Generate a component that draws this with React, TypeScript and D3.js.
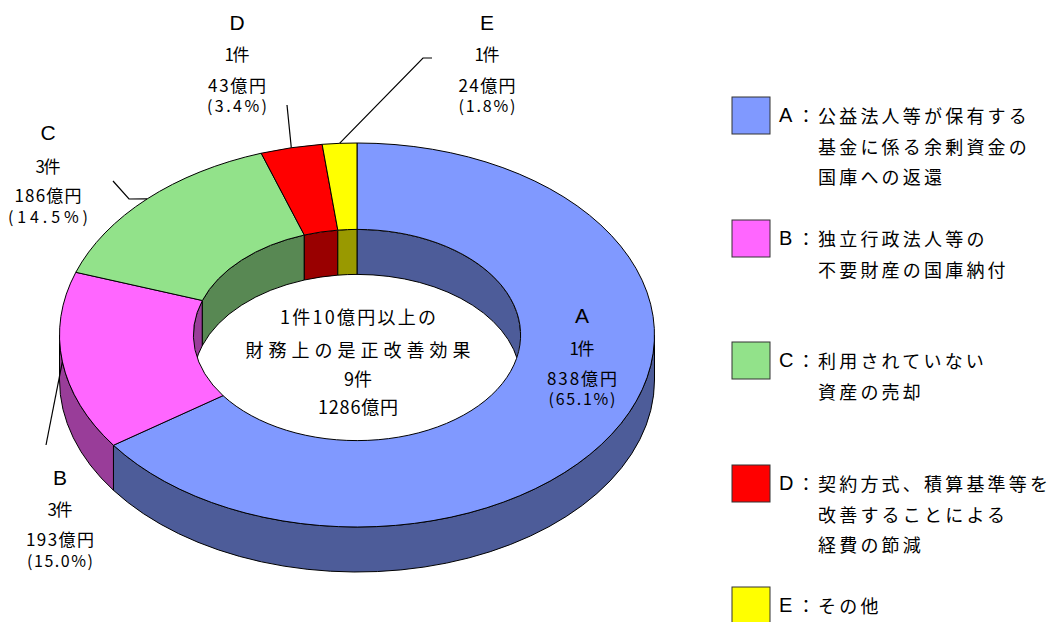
import React from "react";
import * as d3 from "d3";

// 財務上の是正改善効果（1件10億円以上）
const categories = ["A", "B", "C", "D", "E"];
const counts = [1, 3, 3, 1, 1];
const amounts = [838, 193, 186, 43, 24];
const shares = ["65.1", "15.0", "14.5", "3.4", "1.8"];
const topColors = ["#8099ff", "#ff66ff", "#92e28a", "#ff0000", "#ffff00"];
const legendText = [
  ["公益法人等が保有する", "基金に係る余剰資金の", "国庫への返還"],
  ["独立行政法人等の", "不要財産の国庫納付"],
  ["利用されていない", "資産の売却"],
  ["契約方式、積算基準等を", "改善することによる", "経費の節減"],
  ["その他"],
];
const centerTitle = ["1件10億円以上の", "財務上の是正改善効果"];
const totalCount = 9;
const totalAmount = 1286;

// layout
const W = 1055;
const H = 622;
const cx = 357;
const cy = 335;
const rx = 297.5;
const ry = 192;
const hole = 0.55;
const depth = 45;

const labelPos = [
  { x: 582, y: [315, 347, 377, 398], w: [25, 70, 67] },
  { x: 60, y: [477, 508, 538, 560], w: [25, 68, 66] },
  { x: 48, y: [132, 165, 194, 216], w: [25, 67, 80] },
  { x: 237, y: [22, 53, 84, 105], w: [25, 58, 60] },
  { x: 487, y: [22, 53, 84, 105], w: [25, 57, 57] },
];
const leaderPts: (number[][] | null)[] = [
  null,
  [[46, 445]],
  [[113, 181], [129, 199]],
  [[287, 105]],
  [[432, 58], [423, 58]],
];
const centerPos = { x: 358, y: [316, 349, 378, 406], w: [156, 225, 28, 80] };
const legendPos = { x: 732, boxW: 38, boxH: 37, top: [97, 220, 342, 465, 587], letterX: 779, colonX: 806, textX: 818, gap: 30.5 };

const JP = "'Noto Sans CJK JP', 'Noto Sans', sans-serif";
const LAT = "'Liberation Sans', Arial, sans-serif";

const P = (t: number, r: number, dz = 0): [number, number] => [
  cx + rx * r * Math.sin(t),
  cy - ry * r * Math.cos(t) + dz,
];

const arcTo = (t: number, r: number, dz: number, large: number, sweep: number) => {
  const [x, y] = P(t, r, dz);
  return `A ${rx * r} ${ry * r} 0 ${large} ${sweep} ${x} ${y}`;
};

const band = (a: number, b: number, r: number) => {
  const [x0, y0] = P(a, r);
  const [x1, y1] = P(b, r, depth);
  return `M ${x0} ${y0} ${arcTo(b, r, 0, 0, 1)} L ${x1} ${y1} ${arcTo(a, r, depth, 0, 0)} Z`;
};

const topFace = (a: number, b: number) => {
  const large = b - a > Math.PI ? 1 : 0;
  const [x0, y0] = P(a, 1);
  const [x1, y1] = P(b, hole);
  return `M ${x0} ${y0} ${arcTo(b, 1, 0, large, 1)} L ${x1} ${y1} ${arcTo(a, hole, 0, large, 0)} Z`;
};

const clip = (a: number, b: number, lo: number, hi: number) => {
  const s = Math.max(a, lo);
  const e = Math.min(b, hi);
  return s < e ? [s, e] : null;
};

export default function App() {
  const pie = d3.pie<number>().sort(null).value((d) => d);
  const slices = pie(amounts);
  const side = topColors.map((c) => {
    const col = d3.rgb(c);
    return d3.rgb(col.r * 0.6, col.g * 0.6, col.b * 0.6).formatHex();
  });

  const outerWalls: JSX.Element[] = [];
  const innerWalls: JSX.Element[] = [];
  slices.forEach((s, i) => {
    const o = clip(s.startAngle, s.endAngle, Math.PI / 2, (3 * Math.PI) / 2);
    if (o) outerWalls.push(<path key={`o${i}`} d={band(o[0], o[1], 1)} fill={side[i]} stroke="#000" strokeWidth={1} />);
    [clip(s.startAngle, s.endAngle, 0, Math.PI / 2), clip(s.startAngle, s.endAngle, (3 * Math.PI) / 2, 2 * Math.PI)].forEach((r, k) => {
      if (r) innerWalls.push(<path key={`i${i}${k}`} d={band(r[0], r[1], hole)} fill={side[i]} stroke="#000" strokeWidth={1} />);
    });
  });

  const line = d3.line();

  return (
    <svg width={W} height={H} style={{ position: "absolute", left: 0, top: 0, background: "#fff" }}>
      <defs>
        <clipPath id="holeClip">
          <ellipse cx={cx} cy={cy} rx={rx * hole} ry={ry * hole} />
        </clipPath>
      </defs>
      <rect width={W} height={H} fill="#fff" />
      {outerWalls}
      <g clipPath="url(#holeClip)">{innerWalls}</g>
      {slices.map((s, i) => (
        <path key={`t${i}`} d={topFace(s.startAngle, s.endAngle)} fill={topColors[i]} stroke="#000" strokeWidth={1} />
      ))}

      {slices.map((s, i) => {
        const pts = leaderPts[i];
        if (!pts) return null;
        const mid = (s.startAngle + s.endAngle) / 2;
        return <path key={`l${i}`} d={line([...pts, P(mid, 1)] as [number, number][]) || ""} fill="none" stroke="#000" strokeWidth={1.2} />;
      })}

      {categories.map((c, i) => {
        const lp = labelPos[i];
        const lines = [`${counts[i]}件`, `${amounts[i]}億円`, `(${shares[i]}%)`];
        return (
          <g key={`lab${i}`} textAnchor="middle" dominantBaseline="central" fill="#000">
            <text x={lp.x} y={lp.y[0]} fontFamily={LAT} fontSize={21}>{c}</text>
            {lines.map((t, k) => (
              <text key={k} x={lp.x} y={lp.y[k + 1]} fontFamily={JP} fontSize={k === 2 ? 16 : 17} textLength={lp.w[k]} lengthAdjust="spacing">{t}</text>
            ))}
          </g>
        );
      })}

      <g textAnchor="middle" dominantBaseline="central" fontFamily={JP} fontSize={18} fill="#000">
        {[...centerTitle, `${totalCount}件`, `${totalAmount}億円`].map((t, k) => (
          <text key={k} x={centerPos.x} y={centerPos.y[k]} textLength={centerPos.w[k]} lengthAdjust="spacing">{t}</text>
        ))}
      </g>

      {categories.map((c, i) => {
        const top = legendPos.top[i];
        const y0 = top + 18;
        return (
          <g key={`lg${i}`}>
            <rect x={legendPos.x} y={top} width={legendPos.boxW} height={legendPos.boxH} fill={topColors[i]} stroke="#333" strokeWidth={1} />
            <text x={legendPos.letterX} y={y0} fontFamily={LAT} fontSize={20} dominantBaseline="central">{c}</text>
            <text x={legendPos.colonX} y={y0} fontFamily={JP} fontSize={18} dominantBaseline="central" textAnchor="middle">：</text>
            {legendText[i].map((t, k) => (
              <text key={k} x={legendPos.textX} y={y0 + k * legendPos.gap} fontFamily={JP} fontSize={18} letterSpacing={3.2} dominantBaseline="central">{t}</text>
            ))}
          </g>
        );
      })}
    </svg>
  );
}
